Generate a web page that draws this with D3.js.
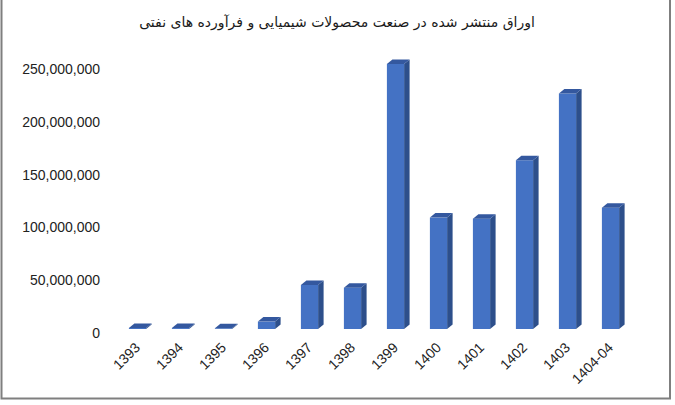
<!DOCTYPE html>
<html><head><meta charset="utf-8">
<script src="https://cdn.jsdelivr.net/npm/d3@7"></script>
<style>body{margin:0;background:#fff}svg{display:block}</style>
</head><body>
<svg id="c" width="675" height="405"></svg>
<script>
const title = "اوراق منتشر شده در صنعت محصولات شیمیایی و فرآورده های نفتی";
const categories = ["1393","1394","1395","1396","1397","1398","1399","1400","1401","1402","1403","1404-04"];
const values = [1000000, 900000, 700000, 7000000, 41700000, 39100000, 251000000, 105500000, 104500000, 159800000, 223000000, 114900000];
const yTicks = [0, 50000000, 100000000, 150000000, 200000000, 250000000];

const svg = d3.select("#c");
svg.append("rect").attr("x",1.5).attr("y",-2).attr("width",668.5).attr("height",400.5)
  .attr("fill","#fff").attr("stroke","#7f7f7f").attr("stroke-width",2);

const x = d3.scaleBand().domain(categories).range([116, 632]).paddingInner(0.6).paddingOuter(0.3);
const y = d3.scaleLinear().domain([0, 250000000]).range([329, 65]);
const dx = 5.5, dy = 4.5;

svg.append("text").attr("x", 337).attr("y", 27).attr("text-anchor","middle")
  .attr("font-family","DejaVu Sans, Arial, sans-serif").attr("font-size",14).attr("fill","#1a1a1a")
  .attr("direction","rtl").text(title);

// y axis labels
const yAxis = d3.axisLeft(y).tickValues(yTicks).tickSize(0).tickPadding(0)
  .tickFormat(d => d3.format(",")(d));
const ga = svg.append("g").attr("transform","translate(100,4)").call(yAxis);
ga.select(".domain").remove();
ga.selectAll("text").attr("font-family","Liberation Sans, Arial, sans-serif").attr("font-size",14).attr("fill","#222");

// bars
const bars = svg.append("g");
categories.forEach((c, i) => {
  const x0 = x(c), w = x.bandwidth(), y0 = y(0), y1 = y(values[i]);
  const g = bars.append("g");
  g.append("path").attr("d", `M${x0+w},${y1} L${x0+w+dx},${y1-dy} L${x0+w+dx},${y0-dy} L${x0+w},${y0} Z`).attr("fill","#2d4f8b");
  g.append("rect").attr("x", x0).attr("y", y1).attr("width", w).attr("height", Math.max(0, y0 - y1)).attr("fill","#4472c4");
  g.append("path").attr("d", `M${x0},${y1} L${x0+dx},${y1-dy} L${x0+w+dx},${y1-dy} L${x0+w},${y1} Z`).attr("fill","#34589f");
});

// x labels
const xAxis = d3.axisBottom(x).tickSize(0).tickPadding(0);
const gx = svg.append("g").attr("transform","translate(0,345)").call(xAxis);
gx.select(".domain").remove();
gx.selectAll("text").attr("font-family","Liberation Sans, Arial, sans-serif").attr("font-size",14).attr("fill","#222")
  .attr("text-anchor","end").attr("dy","0.35em").attr("transform","rotate(-45)");
</script>
</body></html>
